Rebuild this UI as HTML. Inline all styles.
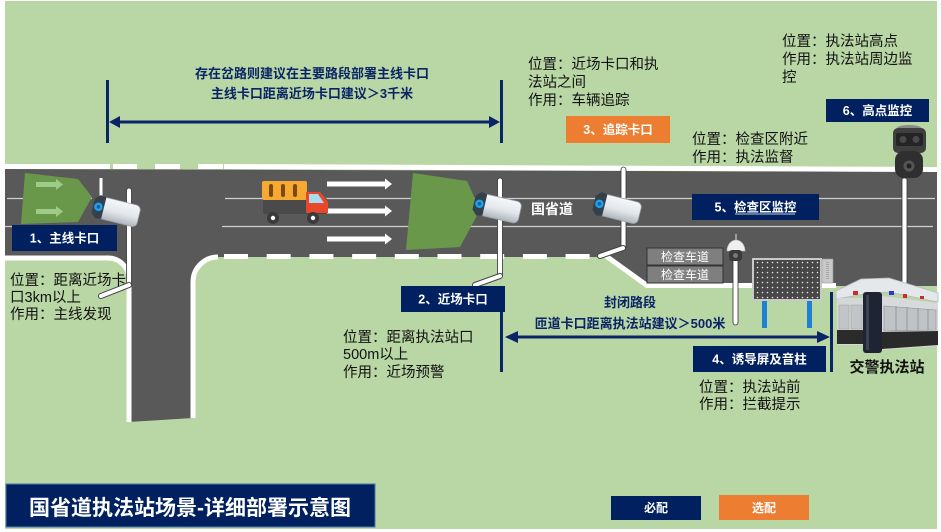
<!DOCTYPE html>
<html><head><meta charset="utf-8">
<style>
html,body{margin:0;padding:0;background:#fff;}
svg{display:block;}
text{font-family:"Liberation Sans","Noto Sans CJK SC",sans-serif;}
</style></head><body>
<svg width="941" height="532" viewBox="0 0 941 532" xmlns="http://www.w3.org/2000/svg">
<defs>
 <linearGradient id="camBody" x1="0" y1="0" x2="0" y2="1">
  <stop offset="0" stop-color="#f6f8fa"/><stop offset="0.55" stop-color="#e2e6ea"/><stop offset="1" stop-color="#aeb6bd"/>
 </linearGradient>
 <pattern id="dots" width="5" height="5" patternUnits="userSpaceOnUse"><circle cx="2.5" cy="2.5" r="0.8" fill="#e6e6e6"/></pattern>
 <g id="cam">
   <rect x="4" y="-11" width="41" height="22" rx="5" fill="url(#camBody)" stroke="#98a0a6" stroke-width="0.8"/>
   <polygon points="-2,-7 3,-12 9,-11 9,11 3,12 -2,7" fill="#34404c"/>
   <circle cx="3.5" cy="0" r="4.2" fill="#1ea3ea"/>
   <circle cx="3.5" cy="0" r="1.8" fill="#0b5fa8"/>
 </g>
</defs>

<!-- background -->
<rect x="5" y="1" width="932" height="528" fill="#b9d6a5"/>

<!-- road -->
<path d="M5,169 L937,172 V286 H647 L609,257 H218 A25 25 0 0 0 193 282 V418 L129,422 V279 A21 21 0 0 0 108 258 H5 Z" fill="#595959"/>

<!-- top white edge -->
<rect x="5" y="164" width="105" height="5" fill="#fff"/>
<rect x="113" y="164" width="24" height="5" fill="#fff"/>
<rect x="155" y="164" width="25" height="5" fill="#fff"/>
<rect x="198" y="164" width="25" height="5" fill="#fff"/>
<polygon points="224,164 937,167 937,172 224,169" fill="#fff"/>

<!-- bottom edges -->
<path d="M5,258 H108 A21 21 0 0 1 129 279 V422" fill="none" stroke="#fff" stroke-width="5"/>
<path d="M218,257 A25 25 0 0 0 193 282 V418" fill="none" stroke="#fff" stroke-width="5"/>
<line x1="224" y1="256.5" x2="610" y2="256.5" stroke="#fff" stroke-width="5" stroke-dasharray="24 18.7"/>
<polyline points="606,256 647,285.5 836,285.5" fill="none" stroke="#fff" stroke-width="5"/>

<!-- lane lines -->
<line x1="7" y1="198.5" x2="92" y2="198.5" stroke="#cfcfcf" stroke-width="1.2"/>
<line x1="225" y1="198.5" x2="935" y2="198.5" stroke="#cfcfcf" stroke-width="1.2"/>
<line x1="5" y1="226.5" x2="14" y2="226.5" stroke="#cfcfcf" stroke-width="1.2"/>
<line x1="222" y1="226.5" x2="933" y2="226.5" stroke="#cfcfcf" stroke-width="1.2"/>

<!-- green cones -->
<polygon points="25,173 78,179 92,197 78,222 21,224" fill="#6a984b"/>
<g fill="#9dcb88">
 <rect x="36" y="182" width="20" height="5"/><polygon points="56,179 63,184.5 56,190"/>
 <rect x="36" y="209" width="20" height="5"/><polygon points="56,206 63,211.5 56,217"/>
</g>
<polygon points="413,173 467,181 480,210 460,247 406,250" fill="#6a984b"/>

<!-- white lane arrows -->
<g fill="#fff">
 <rect x="327" y="181.5" width="58" height="5"/><polygon points="385,178.5 392,184 385,189.5"/>
 <rect x="327" y="208.5" width="58" height="5"/><polygon points="385,205.5 392,211 385,216.5"/>
 <rect x="327" y="236.5" width="58" height="5"/><polygon points="385,233.5 392,239 385,244.5"/>
</g>

<!-- truck -->
<rect x="263" y="198" width="64" height="16" rx="2" fill="#4a4a4a"/>
<rect x="262" y="181" width="45" height="19" rx="2" fill="#f7a931"/>
<rect x="269" y="184" width="4" height="13" rx="2" fill="#7b4a12"/>
<rect x="281" y="184" width="4" height="13" rx="2" fill="#7b4a12"/>
<rect x="293" y="184" width="4" height="13" rx="2" fill="#7b4a12"/>
<path d="M306,192 H320 L328,202 V213 H306 Z" fill="#e8472b"/>
<path d="M309,194 H318 L324,203 H309 Z" fill="#a8ddef"/>
<circle cx="273" cy="218" r="6" fill="#3a3a3a"/><circle cx="273" cy="218" r="2.2" fill="#fff"/>
<circle cx="313" cy="218" r="6" fill="#3a3a3a"/><circle cx="313" cy="218" r="2.2" fill="#fff"/>

<!-- camera 1 -->
<rect x="126.5" y="188" width="5" height="99" rx="2.5" fill="#fff" stroke="#333" stroke-width="0.8"/>
<line x1="129" y1="285" x2="101" y2="296" stroke="#444" stroke-width="6" stroke-linecap="round"/>
<line x1="129" y1="285" x2="101" y2="296" stroke="#fff" stroke-width="4" stroke-linecap="round"/>
<line x1="101" y1="178" x2="101" y2="199" stroke="#fff" stroke-width="3"/>
<use href="#cam" transform="translate(95,206) rotate(14)"/>

<!-- camera 2 -->
<rect x="497.5" y="178" width="5" height="100" rx="2.5" fill="#fff" stroke="#333" stroke-width="0.8"/>
<line x1="500" y1="276" x2="475" y2="285" stroke="#444" stroke-width="6" stroke-linecap="round"/>
<line x1="500" y1="276" x2="475" y2="285" stroke="#fff" stroke-width="4" stroke-linecap="round"/>
<use href="#cam" transform="translate(476,203) rotate(13)"/>

<!-- camera 3 -->
<rect x="621" y="167" width="5" height="83" rx="2.5" fill="#fff" stroke="#333" stroke-width="0.8"/>
<line x1="623" y1="248" x2="600" y2="256" stroke="#444" stroke-width="6" stroke-linecap="round"/>
<line x1="623" y1="248" x2="600" y2="256" stroke="#fff" stroke-width="4" stroke-linecap="round"/>
<use href="#cam" transform="translate(596,203) rotate(14)"/>

<!-- 国省道 -->
<text x="531" y="214" font-size="14" font-weight="bold" fill="#fff">国省道</text>

<!-- 检查车道 -->
<rect x="647" y="248" width="76" height="17" fill="#7f7f7f" stroke="#333" stroke-width="1"/>
<rect x="647" y="266" width="76" height="17" fill="#7f7f7f" stroke="#333" stroke-width="1"/>
<text x="685" y="261" font-size="12" fill="#fff" text-anchor="middle">检查车道</text>
<text x="685" y="279" font-size="12" fill="#fff" text-anchor="middle">检查车道</text>

<!-- dome camera -->
<rect x="733" y="258" width="5" height="67" rx="2.5" fill="#fff" stroke="#333" stroke-width="0.8"/>
<path d="M727,251 A9 11 0 0 1 745 251 Z" fill="#f0f0f0" stroke="#bbb" stroke-width="0.6"/>
<rect x="729" y="250" width="13" height="11" rx="3" fill="#3a3a3a"/>
<circle cx="735.5" cy="255.5" r="2.5" fill="#777"/>
<line x1="736" y1="234" x2="736" y2="240" stroke="#ddd" stroke-width="1"/>

<!-- high camera 6 -->
<rect x="902" y="178" width="5" height="106" rx="2" fill="#fff" stroke="#333" stroke-width="0.8"/>
<ellipse cx="909" cy="128" rx="12" ry="3" fill="#8a8a8a"/>
<rect x="893" y="128" width="33" height="25" rx="5" fill="#3f3f3f"/>
<rect x="896" y="133" width="27" height="13" rx="2" fill="#242424"/>
<circle cx="903" cy="139.5" r="3.5" fill="#4a4a4a"/><circle cx="916" cy="139.5" r="3.5" fill="#4a4a4a"/>
<rect x="895" y="151" width="28" height="27" rx="9" fill="#2f2f2f"/>
<circle cx="909" cy="166" r="5.5" fill="#555"/><circle cx="909" cy="166" r="2.5" fill="#222"/>

<!-- LED screen -->
<rect x="762" y="298" width="5" height="30" fill="#1f80d6"/>
<rect x="807" y="298" width="5" height="30" fill="#1f80d6"/>
<rect x="753" y="259" width="68" height="41" fill="#474747" stroke="#c9c9c9" stroke-width="2"/>
<rect x="754" y="260" width="66" height="39" fill="url(#dots)"/>
<rect x="822" y="259" width="11" height="24" fill="#c9c9c9" stroke="#999" stroke-width="0.6"/>
<line x1="827.5" y1="262" x2="827.5" y2="280" stroke="#a8a8a8" stroke-width="3" stroke-dasharray="1 1"/>

<!-- police station -->
<polygon points="836,291 861,279 889,278 938,293 938,302 889,292 864,294 836,299" fill="#e5e8eb" stroke="#b5b9bd" stroke-width="0.8"/>
<rect x="837" y="298" width="27" height="47" fill="#d6d7d8"/>
<rect x="839" y="305" width="10" height="24" fill="#c2c5c7" stroke="#999" stroke-width="0.5"/>
<rect x="851" y="305" width="11" height="24" fill="#c2c5c7" stroke="#999" stroke-width="0.5"/>
<rect x="837" y="330" width="27" height="14" fill="#2b2b2b"/>
<polygon points="882,296 938,303 938,346 882,350" fill="#d8d9da"/>
<polygon points="884,306 936,310 936,330 884,331" fill="#bfc3c6" stroke="#8a8e92" stroke-width="0.6"/>
<g stroke="#8a8e92" stroke-width="0.8">
 <line x1="896" y1="306" x2="896" y2="331"/><line x1="907" y1="307" x2="907" y2="331"/>
 <line x1="918" y1="308" x2="918" y2="330"/><line x1="928" y1="309" x2="928" y2="330"/>
</g>
<polygon points="882,332 938,331 938,345 882,349" fill="#2a2a2a"/>
<rect x="863" y="292" width="19" height="61" rx="3" fill="#1e2431"/>
<rect x="866" y="295" width="3" height="55" fill="#3a4254"/>
<rect x="853" y="291" width="5" height="4" fill="#d02a2a"/><rect x="889" y="291" width="5" height="4" fill="#2a3ad0"/>
<rect x="903" y="294" width="4" height="4" fill="#d02a2a"/><rect x="920" y="296" width="4" height="3" fill="#c03030"/>
<text x="887" y="372" font-size="15" font-weight="bold" fill="#111" text-anchor="middle">交警执法站</text>

<!-- header arrow -->
<g fill="#0b2466">
 <rect x="106" y="80" width="3" height="63"/>
 <rect x="500" y="80" width="3" height="63"/>
 <rect x="115" y="120.5" width="377" height="3"/>
 <polygon points="109,122 120,116 120,128"/>
 <polygon points="500,122 489,116 489,128"/>
</g>
<text x="312" y="78" font-size="13" font-weight="bold" fill="#0b2466" text-anchor="middle">存在岔路则建议在主要路段部署主线卡口</text>
<text x="312" y="98" font-size="13" font-weight="bold" fill="#0b2466" text-anchor="middle">主线卡口距离近场卡口建议＞3千米</text>

<!-- bottom arrow -->
<g fill="#0b2466">
 <rect x="500" y="312" width="3" height="60"/>
 <rect x="830" y="292" width="3" height="80"/>
 <rect x="512" y="335.5" width="312" height="3"/>
 <polygon points="505,337 518,331 518,343"/>
 <polygon points="830,337 817,331 817,343"/>
</g>
<text x="630" y="307" font-size="13" font-weight="bold" fill="#0b2466" text-anchor="middle">封闭路段</text>
<text x="630" y="328" font-size="13" font-weight="bold" fill="#0b2466" text-anchor="middle">匝道卡口距离执法站建议＞500米</text>

<!-- label boxes -->
<rect x="12" y="225" width="105" height="26" fill="#002060"/>
<text x="64.5" y="242.5" font-size="12.5" font-weight="bold" fill="#fff" text-anchor="middle">1、主线卡口</text>
<rect x="401" y="286" width="104" height="26" fill="#002060"/>
<text x="453" y="303.5" font-size="12.5" font-weight="bold" fill="#fff" text-anchor="middle">2、近场卡口</text>
<rect x="566" y="116" width="104" height="27" fill="#ed7d31"/>
<text x="618" y="134" font-size="12.5" font-weight="bold" fill="#fff" text-anchor="middle">3、追踪卡口</text>
<rect x="692" y="194" width="127" height="26" fill="#002060"/>
<text x="755.5" y="211.5" font-size="12.5" font-weight="bold" fill="#fff" text-anchor="middle">5、检查区监控</text>
<line x1="735" y1="214" x2="795" y2="214" stroke="#fff" stroke-width="0.8"/>
<rect x="826" y="99" width="103" height="23" fill="#002060"/>
<text x="877.5" y="115" font-size="12.5" font-weight="bold" fill="#fff" text-anchor="middle">6、高点监控</text>
<rect x="693" y="346" width="133" height="26" fill="#002060"/>
<text x="759.5" y="363.5" font-size="12.5" font-weight="bold" fill="#fff" text-anchor="middle">4、诱导屏及音柱</text>

<!-- descriptions -->
<g font-size="14.5" fill="#111">
 <text x="10" y="285">位置：距离近场卡</text>
 <text x="10" y="302">口3km以上</text>
 <text x="10" y="319">作用：主线发现</text>

 <text x="343" y="342">位置：距离执法站口</text>
 <text x="343" y="359">500m以上</text>
 <text x="343" y="377">作用：近场预警</text>

 <text x="528" y="69">位置：近场卡口和执</text>
 <text x="528" y="87">法站之间</text>
 <text x="528" y="105">作用：车辆追踪</text>

 <text x="782" y="46">位置：执法站高点</text>
 <text x="782" y="64">作用：执法站周边监</text>
 <text x="782" y="82">控</text>

 <text x="692" y="144">位置：检查区附近</text>
 <text x="692" y="162">作用：执法监督</text>

 <text x="699" y="392">位置：执法站前</text>
 <text x="699" y="409">作用：拦截提示</text>
</g>

<!-- title -->
<rect x="6" y="484" width="369" height="43" fill="#002060" stroke="#4a78a8" stroke-width="1"/>
<text x="190" y="515" font-size="21" font-weight="bold" fill="#fff" text-anchor="middle">国省道执法站场景-详细部署示意图</text>

<!-- legend -->
<rect x="611" y="496" width="90" height="24" fill="#002060"/>
<text x="656" y="512" font-size="12" font-weight="bold" fill="#fff" text-anchor="middle">必配</text>
<rect x="719" y="495" width="90" height="25" fill="#ed7d31"/>
<text x="764" y="512" font-size="12" font-weight="bold" fill="#fff" text-anchor="middle">选配</text>
</svg>
</body></html>
